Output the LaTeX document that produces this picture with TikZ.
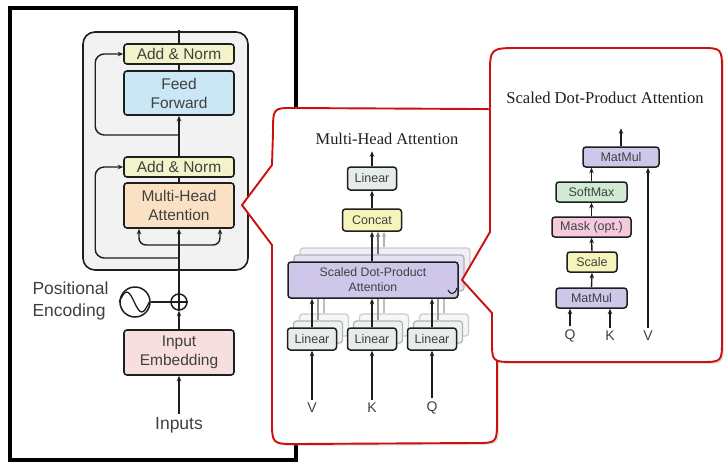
\documentclass[tikz,border=0pt]{standalone}
\usepackage{fontspec}
\setmainfont{Liberation Serif}
\setsansfont{Liberation Sans}
\usetikzlibrary{arrows.meta,shadows,calc}
\definecolor{addnorm}{HTML}{F2F3C9}
\definecolor{ffc}{HTML}{C9E7F5}
\definecolor{mhac}{HTML}{FBE1C3}
\definecolor{embc}{HTML}{F8DFDF}
\definecolor{encbg}{HTML}{F2F2F2}
\definecolor{linc}{HTML}{E6ECE8}
\definecolor{concatc}{HTML}{F6F4BA}
\definecolor{sdpac}{HTML}{CFC7E9}
\definecolor{softc}{HTML}{D1EBD2}
\definecolor{maskc}{HTML}{F5CADF}
\definecolor{boxline}{HTML}{1E1E1E}
\definecolor{txt}{HTML}{404040}
\definecolor{calred}{HTML}{CC1010}
\begin{document}
\begin{tikzpicture}[x=1pt,y=-1pt,
  bx/.style={draw=boxline, line width=1.6pt, rounded corners=3pt, inner sep=0pt, text=txt, align=center,
    font=\sffamily\fontsize{15.5}{19}\selectfont},
  sbx/.style={bx, line width=1.5pt, font=\sffamily\fontsize{12.5}{15}\selectfont},
  ghost/.style={draw=black!30, line width=1.2pt, rounded corners=3pt, inner sep=0pt},
  arr/.style={-{Stealth[length=5.5pt,width=4.5pt]}, line width=1.4pt, draw=boxline},
  plain/.style={line width=1.4pt, draw=boxline},
  glin/.style={line width=1.2pt},
  lab/.style={text=txt, font=\sffamily\fontsize{17.5}{22}\selectfont},
  slab/.style={text=txt, font=\sffamily\fontsize{14}{16}\selectfont},
  ttl/.style={text=black!88},
  callout/.style={draw=calred, line width=1.9pt, fill=white, line join=round,
    drop shadow={shadow xshift=2pt, shadow yshift=-2pt, opacity=0.25}},
]
\useasboundingbox (0,0) rectangle (724,464);
\fill[white] (0,0) rectangle (724,464);

% ---------- left panel ----------
\draw[line width=4pt, black] (10,7.5) rectangle (296,459.5);
\draw[fill=encbg, draw=boxline, line width=1.6pt, rounded corners=12pt] (83,32) rectangle (248,270);

\node[bx, fill=addnorm, minimum width=110pt, minimum height=20pt] (an2) at (179,54) {Add \& Norm};
\node[bx, fill=ffc, minimum width=110pt, minimum height=44pt] (ff) at (179,93) {Feed\\Forward};
\node[bx, fill=addnorm, minimum width=110pt, minimum height=20pt] (an1) at (179,167) {Add \& Norm};
\node[bx, fill=mhac, minimum width=110pt, minimum height=45pt] (mha) at (179,205.5) {Multi-Head\\Attention};
\node[bx, fill=embc, minimum width=110pt, minimum height=45pt] (emb) at (179,352.5) {Input\\Embedding};
\node[lab] (inp) at (179,425) {Inputs};
\node[lab, anchor=west, align=left] (pelab) at (29,301) {Positional\\Encoding};
\node[circle, draw=boxline, line width=1.5pt, minimum size=30pt, inner sep=0pt] (pe) at (135,302) {};
\node[circle, draw=boxline, line width=1.5pt, minimum size=16pt, inner sep=0pt] (plus) at (179,302) {};
\draw[plain] (plus.north) -- (plus.south) (plus.west) -- (plus.east);
\draw[line width=1.3pt, draw=boxline] (pe.west) sin ++(7.5,-10) cos ++(7.5,10) sin ++(7.5,10) cos ++(7.5,-10);
\draw[plain] (pe.east) -- (plus.west);

\coordinate (bA) at (179,245);
\coordinate (bB) at (179,258);
\coordinate (bC) at (179,135);
\draw[arr] (inp.north) -- (emb.south);
\draw[arr] (emb.north) -- (plus.south);
\draw[arr] (plus.north) -- (mha.south);
\draw[arr, rounded corners=7pt] (bA) -| ($(mha.south)+(-40,0)$);
\draw[arr, rounded corners=7pt] (bA) -| ($(mha.south)+(41,0)$);
\draw[arr, rounded corners=9pt] (bB) -| ($(an1.west)+(-28,0)$) -- (an1.west);
\draw[arr, rounded corners=9pt] (bC) -| ($(an2.west)+(-28,0)$) -- (an2.west);
\draw[plain] (mha.north) -- (an1.south);
\draw[arr] (an1.north) -- (ff.south);
\draw[plain] (ff.north) -- (an2.south);
\draw[plain] (an2.north) -- ++(0,-13);

% ---------- middle callout ----------
\path[callout] (293,108) -- (478,109) .. controls (497,109) .. (497,128) -- (497,420)
  .. controls (497,443) .. (475,443) -- (297,444) .. controls (272,444) .. (272,420)
  -- (272,245) -- (242,205) -- (272,165) -- (273,133) .. controls (273,108) .. (293,108) -- cycle;

\node[ttl, font=\fontsize{16.4}{19}\selectfont] (t1) at (387,139) {Multi-Head Attention};

% ghosts
\node[ghost, fill=sdpac!30, draw=black!20, minimum width=170pt, minimum height=36pt] (sdpaC) at (385,266) {};
\node[ghost, fill=sdpac!55, minimum width=170pt, minimum height=36pt] (sdpaB) at (379,273) {};
\foreach \n/\x in {V/312,K/372,Q/432}{
  \node[ghost, fill=linc!40, draw=black!20, minimum width=49pt, minimum height=22pt] (glC\n) at (\x+12,325) {};
  \node[ghost, fill=linc!70, minimum width=49pt, minimum height=22pt] (glB\n) at (\x+6,332) {};
  \draw[glin, draw=black!25] (glC\n.north) -- (glC\n.north |- sdpaC.south);
  \draw[glin, draw=black!40] (glB\n.north) -- (glB\n.north |- sdpaB.south);
}
\node[sbx, fill=sdpac, minimum width=170pt, minimum height=36pt, font=\sffamily\fontsize{12.3}{15}\selectfont] (sdpa) at (373,280) {Scaled Dot-Product\\Attention};
\draw[line width=1.1pt, draw=boxline] (448,290) .. controls (450,295) and (455,295) .. (457,288);

\node[sbx, fill=linc, minimum width=49pt, minimum height=23pt] (lin) at (372,178.5) {Linear};
\node[sbx, fill=concatc, minimum width=59pt, minimum height=22pt] (concat) at (372,220) {Concat};
\coordinate (cc1) at ($(concat.south)+(6,0)$);
\coordinate (cc2) at ($(concat.south)+(12,0)$);
\draw[arr, draw=black!30] (cc2 |- sdpaC.north) -- (cc2);
\draw[arr, draw=black!55] (cc1 |- sdpaB.north) -- (cc1);
\draw[arr] (concat.south |- sdpa.north) -- (concat.south);
\draw[arr] (concat.north) -- (lin.south);
\draw[arr] (lin.north) -- ++(0,-15);

\foreach \n/\x in {V/312,K/372,Q/432}{
  \node[sbx, fill=linc, minimum width=49pt, minimum height=22pt] (lin\n) at (\x,339) {Linear};
  \node[slab] (in\n) at (\x,408) {\n};
  \draw[arr] (in\n.north) -- (lin\n.south);
  \draw[arr] (lin\n.north) -- (lin\n.north |- sdpa.south);
}

% ---------- right callout ----------
\path[callout] (520,48) -- (700,48) .. controls (722,48) .. (722,72) -- (722,340)
  .. controls (722,362) .. (700,362) -- (515,362) .. controls (492,362) .. (492,340)
  -- (492,313) -- (462,280) -- (490,232) -- (490,75) .. controls (490,48) .. (520,48) -- cycle;

\node[ttl, font=\fontsize{16.6}{19}\selectfont] (t2) at (605,98) {Scaled Dot-Product Attention};
\node[sbx, fill=sdpac, minimum width=76pt, minimum height=20pt] (mm2) at (621,157) {MatMul};
\node[sbx, fill=softc, minimum width=71pt, minimum height=20pt] (soft) at (591.5,192) {SoftMax};
\node[sbx, fill=maskc, minimum width=79pt, minimum height=20pt] (mask) at (591.5,227) {Mask (opt.)};
\node[sbx, fill=concatc, minimum width=50pt, minimum height=20pt] (scale) at (592,262) {Scale};
\node[sbx, fill=sdpac, minimum width=71pt, minimum height=20pt] (mm1) at (591.5,298) {MatMul};
\node[slab] (rQ) at (570,336) {Q};
\node[slab] (rK) at (610,336) {K};
\node[slab] (rV) at (648,336) {V};
\draw[arr] (mm2.north) -- ++(0,-18);
\draw[arr] (soft.north) -- (soft.north |- mm2.south);
\draw[arr] (mask.north) -- (soft.south);
\draw[arr] (scale.north) -- (mask.south);
\draw[arr] (mm1.north) -- (scale.south);
\draw[arr] (rQ.north) -- (rQ.north |- mm1.south);
\draw[arr] (rK.north) -- (rK.north |- mm1.south);
\draw[arr] (rV.north) -- (rV.north |- mm2.south);
\end{tikzpicture}
\end{document}
